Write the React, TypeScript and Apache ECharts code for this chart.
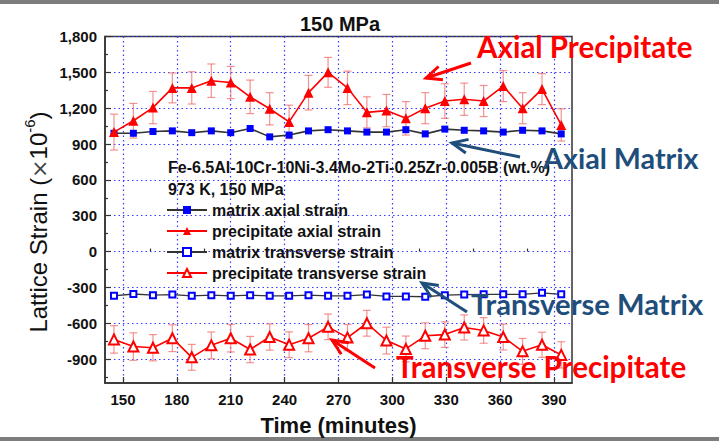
import React, { useEffect, useRef } from 'react';
import * as echarts from 'echarts';

const times = [145, 155.8, 166.7, 177.5, 188.3, 199.2, 210, 220.8, 231.7, 242.5, 253.3, 264.2, 275, 285.8, 296.7, 307.5, 318.3, 329.2, 340, 350.8, 361.7, 372.5, 383.3, 394];

const matrixAxial = [990, 990, 1005, 1010, 995, 1010, 995, 1030, 960, 975, 1010, 1020, 1010, 1000, 1000, 1020, 985, 1025, 1015, 1010, 1000, 1015, 1010, 985];
const precipAxial = [1000, 1095, 1205, 1370, 1370, 1430, 1415, 1295, 1195, 1085, 1330, 1500, 1370, 1165, 1180, 1115, 1200, 1260, 1275, 1260, 1385, 1200, 1360, 1060];
const precipAxialErr = [150, 145, 135, 125, 135, 140, 135, 140, 135, 140, 145, 125, 140, 130, 135, 140, 130, 145, 135, 130, 130, 130, 130, 135];
const matrixTrans = [-370, -355, -365, -360, -370, -365, -370, -365, -370, -370, -365, -370, -370, -360, -375, -375, -378, -365, -360, -358, -358, -358, -345, -358];
const precipTrans = [-735, -795, -805, -725, -885, -785, -725, -820, -715, -780, -725, -630, -720, -600, -745, -815, -705, -695, -635, -660, -715, -835, -780, -865];
const precipTransErr = [115, 115, 110, 112, 108, 112, 115, 110, 110, 108, 114, 107, 110, 108, 112, 108, 108, 107, 105, 107, 108, 108, 105, 110];

const xLabelValues = [150, 180, 210, 240, 270, 300, 330, 360, 390];
const xMinorValues = [165, 195, 225, 255, 285, 315, 345, 375];
const yLabelValues = [-900, -600, -300, 0, 300, 600, 900, 1200, 1500, 1800];
const yMinorValues = [-1050, -750, -450, -150, 150, 450, 750, 1050, 1350, 1650];

const seriesNames = ['matrix axial strain', 'precipitate axial strain', 'matrix transverse strain', 'precipitate transverse strain'];

const FONT = 'Arial, "Liberation Sans", sans-serif';
const ANN_FONT = 'Lato, "Open Sans", sans-serif';
const RED = '#ff0000';
const NAVY = '#1f4e7a';
const ERR = 'rgba(240,110,110,0.75)';
const GRIDLINE = { color: '#3a3aff', type: [1.5, 3], width: 1.2 };

function errorSeries(name: string, values: number[], errs: number[]) {
  return {
    type: 'custom',
    name,
    z: 1,
    silent: true,
    data: times.map((t, i) => [t, values[i] - errs[i], values[i] + errs[i]]),
    encode: { x: 0, y: [1, 2] },
    renderItem: (_params: any, api: any) => {
      const x = api.value(0);
      const lo = api.coord([x, api.value(1)]);
      const hi = api.coord([x, api.value(2)]);
      const cap = 4;
      const style = { stroke: ERR, lineWidth: 1.2 };
      return {
        type: 'group',
        children: [
          { type: 'line', shape: { x1: lo[0], y1: lo[1], x2: hi[0], y2: hi[1] }, style },
          { type: 'line', shape: { x1: lo[0] - cap, y1: lo[1], x2: lo[0] + cap, y2: lo[1] }, style },
          { type: 'line', shape: { x1: hi[0] - cap, y1: hi[1], x2: hi[0] + cap, y2: hi[1] }, style },
        ],
      };
    },
  };
}

function arrow(tail: number[], tip: number[], color: string) {
  const a = Math.atan2(tip[1] - tail[1], tip[0] - tail[0]);
  const L = 17;
  const s = 0.42;
  const p1 = [tip[0] - L * Math.cos(a - s), tip[1] - L * Math.sin(a - s)];
  const p2 = [tip[0] - L * Math.cos(a + s), tip[1] - L * Math.sin(a + s)];
  return [
    { type: 'line', z: 50, shape: { x1: tail[0], y1: tail[1], x2: tip[0], y2: tip[1] }, style: { stroke: color, lineWidth: 3 } },
    { type: 'polyline', z: 50, shape: { points: [p1, tip, p2] }, style: { stroke: color, lineWidth: 3, fill: null } },
  ];
}

function label(text: string, x: number, y: number, color: string, size: number) {
  return {
    type: 'text',
    z: 50,
    x,
    y,
    style: {
      text,
      fill: color,
      font: `bold ${size}px ${ANN_FONT}`,
      align: 'left',
      verticalAlign: 'middle',
      textAlign: 'left',
      textVerticalAlign: 'middle',
    },
  };
}

export default function App() {
  const ref = useRef<HTMLDivElement>(null);
  useEffect(() => {
    if (!ref.current) return;
    const chart = echarts.init(ref.current, null, { renderer: 'svg' });
    const axisTextStyle = { fontWeight: 'bold', fontSize: 15, color: '#111', fontFamily: FONT };
    const option: any = {
      animation: false,
      backgroundColor: '#ffffff',
      title: {
        text: '150 MPa',
        left: 335,
        top: 9,
        textAlign: 'center',
        textStyle: { fontSize: 20, fontWeight: 'bold', color: '#111', fontFamily: FONT },
      },
      grid: {
        left: 105,
        right: 147,
        top: 36.5,
        bottom: 56.5,
        show: true,
        borderColor: '#333',
        borderWidth: 1.5,
        backgroundColor: 'transparent',
      },
      legend: {
        data: seriesNames,
        orient: 'vertical',
        left: 166,
        top: 202,
        padding: 0,
        itemWidth: 40,
        itemHeight: 10,
        itemGap: 5,
        textStyle: { fontSize: 16, fontWeight: 'bold', color: '#111', fontFamily: FONT },
      },
      xAxis: [
        {
          type: 'value',
          min: 140,
          max: 400,
          position: 'bottom',
          axisLine: { show: true, onZero: false, lineStyle: { color: '#333', width: 1.5 } },
          axisTick: { show: true, inside: true, length: 6, customValues: xLabelValues, lineStyle: { color: '#333', width: 1.2 } },
          axisLabel: { customValues: xLabelValues, margin: 9, ...axisTextStyle },
          splitLine: { show: true, lineStyle: GRIDLINE },
          name: 'Time (minutes)',
          nameLocation: 'middle',
          nameGap: 31,
          nameTextStyle: { fontSize: 22, fontWeight: 'bold', color: '#111', fontFamily: FONT },
        },
        {
          type: 'value',
          min: 140,
          max: 400,
          position: 'bottom',
          axisLine: { show: false },
          axisTick: { show: true, inside: true, length: 3, customValues: xMinorValues, lineStyle: { color: '#333', width: 1.2 } },
          axisLabel: { show: false },
          splitLine: { show: false },
        },
      ],
      yAxis: [
        {
          type: 'value',
          min: -1100,
          max: 1800,
          position: 'left',
          axisLine: { show: true, onZero: false, lineStyle: { color: '#333', width: 1.5 } },
          axisTick: { show: true, inside: true, length: 6, customValues: yLabelValues, lineStyle: { color: '#333', width: 1.2 } },
          axisLabel: {
            customValues: yLabelValues,
            margin: 8,
            formatter: (v: number) => v.toLocaleString('en-US'),
            ...axisTextStyle,
          },
          splitLine: { show: true, lineStyle: GRIDLINE },
        },
        {
          type: 'value',
          min: -1100,
          max: 1800,
          position: 'left',
          axisLine: { show: false },
          axisTick: { show: true, inside: true, length: 3, customValues: yMinorValues, lineStyle: { color: '#333', width: 1.2 } },
          axisLabel: { show: false },
          splitLine: { show: false },
        },
      ],
      series: [
        errorSeries('err-pa', precipAxial, precipAxialErr),
        errorSeries('err-pt', precipTrans, precipTransErr),
        {
          type: 'line',
          name: seriesNames[0],
          z: 3,
          data: times.map((t, i) => [t, matrixAxial[i]]),
          symbol: 'rect',
          symbolSize: 7,
          itemStyle: { color: '#0000ff' },
          lineStyle: { color: '#333', width: 1.6 },
        },
        {
          type: 'line',
          name: seriesNames[1],
          z: 4,
          data: times.map((t, i) => [t, precipAxial[i]]),
          symbol: 'triangle',
          symbolSize: 10,
          itemStyle: { color: RED },
          lineStyle: { color: RED, width: 1.6 },
        },
        {
          type: 'line',
          name: seriesNames[2],
          z: 3,
          data: times.map((t, i) => [t, matrixTrans[i]]),
          symbol: 'emptyRect',
          symbolSize: 6,
          itemStyle: { color: '#0000ff', borderWidth: 1.3 },
          lineStyle: { color: '#333', width: 1.3 },
        },
        {
          type: 'line',
          name: seriesNames[3],
          z: 4,
          data: times.map((t, i) => [t, precipTrans[i]]),
          symbol: 'emptyTriangle',
          symbolSize: 10,
          itemStyle: { color: RED, borderWidth: 1.5 },
          lineStyle: { color: RED, width: 1.6 },
        },
      ],
      graphic: [
        { type: 'rect', shape: { x: 0, y: 0, width: 719, height: 4 }, style: { fill: '#7d7d7d' } },
        { type: 'rect', shape: { x: 0, y: 437, width: 719, height: 4 }, style: { fill: '#7d7d7d' } },
        {
          type: 'text', x: 168, y: 167,
          style: { text: 'Fe-6.5Al-10Cr-10Ni-3.4Mo-2Ti-0.25Zr-0.005B (wt.%)', fill: '#111', font: `bold 16px ${FONT}`, verticalAlign: 'middle', textVerticalAlign: 'middle' },
        },
        {
          type: 'text', x: 168, y: 189,
          style: { text: '973 K, 150 MPa', fill: '#111', font: `bold 16px ${FONT}`, verticalAlign: 'middle', textVerticalAlign: 'middle' },
        },
        {
          type: 'text', x: 36, y: 222, rotation: Math.PI / 2,
          style: {
            text: '{m|Lattice Strain (}{x|×}{m|10}{s|-6}{m|)}',
            align: 'center', verticalAlign: 'middle', textAlign: 'center', textVerticalAlign: 'middle',
            rich: {
              m: { fontSize: 24, fontFamily: FONT, fill: '#111', color: '#111', lineHeight: 28, verticalAlign: 'bottom' },
              x: { fontSize: 22, fontFamily: '"DejaVu Sans", sans-serif', fill: '#444', color: '#444', lineHeight: 28, verticalAlign: 'bottom' },
              s: { fontSize: 15, fontFamily: FONT, fill: '#111', color: '#111', lineHeight: 28, verticalAlign: 'top' },
            },
          },
        },
        label('Axial Precipitate', 477, 46, RED, 29.5),
        ...arrow([471, 63], [426, 78], RED),
        label('Axial Matrix', 543, 158, NAVY, 28.7),
        ...arrow([520, 157], [452, 143], NAVY),
        label('Transverse Matrix', 471, 303, NAVY, 29.2),
        ...arrow([467, 312], [422, 283], NAVY),
        label('Transverse Precipitate', 396, 366, RED, 29.5),
        ...arrow([375, 368], [332, 340], RED),
      ],
    };
    chart.setOption(option);
    return () => chart.dispose();
  }, []);
  return <div ref={ref} style={{ position: 'fixed', left: 0, top: 0, width: 719, height: 441 }} />;
}
